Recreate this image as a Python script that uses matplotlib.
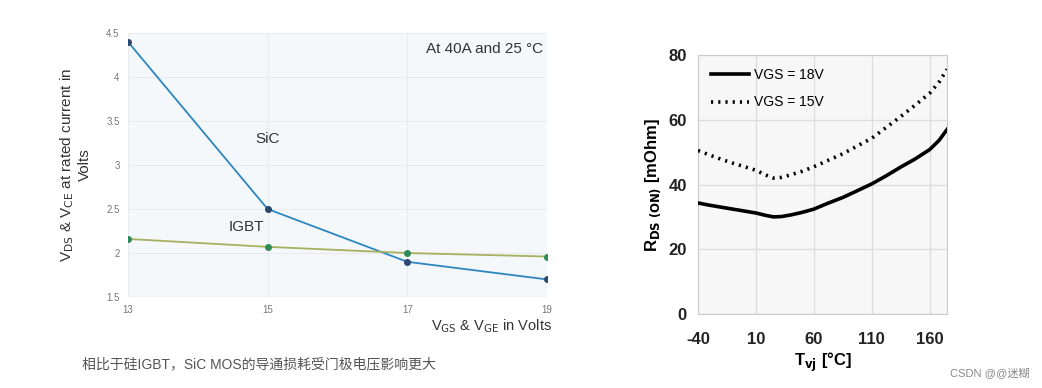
import matplotlib.pyplot as plt

plt.rcParams['font.family'] = ['Liberation Sans', 'Noto Sans CJK SC', 'DejaVu Sans']
plt.rcParams['axes.unicode_minus'] = False

# 左图：门极电压 vs 导通压降
vg = [13, 15, 17, 19]
sic_v = [4.40, 2.50, 1.90, 1.70]
igbt_v = [2.16, 2.07, 2.00, 1.96]

# 右图：结温 vs RDS(on)（从图上读取的点）
tvj = [-40, -30, -20, -10, 0, 10, 18, 25, 32, 40, 50, 60, 72, 85, 97, 110,
       122, 135, 147, 160, 168, 175]
rds_18v = [34.3, 33.6, 33.0, 32.4, 31.8, 31.2, 30.5, 30.0, 30.1, 30.6, 31.4, 32.4,
           34.2, 36.0, 38.0, 40.2, 42.6, 45.4, 47.8, 50.8, 53.6, 57.0]
rds_15v = [50.5, 49.1, 47.8, 46.6, 45.5, 44.4, 43.0, 42.0, 42.2, 43.0, 44.1, 45.5,
           47.4, 49.5, 51.8, 54.3, 57.5, 61.0, 64.4, 68.2, 71.6, 75.6]
right_xticks = [-40, 10, 60, 110, 160]
right_yticks = [0, 20, 40, 60, 80]

caption = "相比于硅IGBT，SiC MOS的导通损耗受门极电压影响更大"

fig = plt.figure(figsize=(10.42, 3.88), dpi=100)
fig.patch.set_facecolor("white")

# ---- 左图 ----
ax1 = fig.add_axes([0.1228, 0.2345, 0.4021, 0.6804])
ax1.set_facecolor("#f4f8fa")
ax1.plot(vg, sic_v, color="#2e86c1", linewidth=1.3, zorder=3)
ax1.plot(vg, sic_v, "o", color="#2c4770", markersize=4, zorder=4)
ax1.plot(vg, igbt_v, color="#a8b060", linewidth=1.3, zorder=3)
ax1.plot(vg, igbt_v, "o", color="#2e8b57", markersize=4, zorder=4)
ax1.set_xlim(13, 19)
ax1.set_ylim(1.5, 4.5)
ax1.set_xticks(vg)
ax1.set_yticks([1.5, 2, 2.5, 3, 3.5, 4, 4.5])
ax1.set_yticklabels(["1.5", "2", "2.5", "3", "3.5", "4", "4.5"])
ax1.tick_params(length=0, labelsize=7, labelcolor="#777777", pad=6)
ax1.grid(color="#e8ecef", linewidth=0.8)
for s in ax1.spines.values():
    s.set_visible(False)
ax1.axhline(1.5, color="#dde2e6", linewidth=1)
ax1.text(18.95, 4.32, "At 40A and 25 °C", ha="right", va="center", fontsize=11, color="#333333")
ax1.text(15.0, 3.3, "SiC", ha="center", va="center", fontsize=11, color="#333333")
ax1.text(14.7, 2.29, "IGBT", ha="center", va="center", fontsize=11, color="#333333")
ax1.set_ylabel("V$_{\\rm DS}$ & V$_{\\rm CE}$ at rated current in\nVolts", fontsize=11,
               color="#333333", labelpad=10)
ax1.text(1.012, -0.11, "V$_{\\rm GS}$ & V$_{\\rm GE}$ in Volts", transform=ax1.transAxes,
         ha="right", va="center", fontsize=10.5, color="#333333")

# ---- 右图 ----
ax2 = fig.add_axes([0.6699, 0.1907, 0.239, 0.6675])
ax2.set_facecolor("#f7f7f7")
ax2.plot(tvj, rds_18v, color="black", linewidth=2.6, label="VGS = 18V", zorder=3)
ax2.plot(tvj, rds_15v, color="black", linewidth=2.6, linestyle=(0, (0.6, 1.4)),
         label="VGS = 15V", zorder=3)
ax2.set_xlim(-40, 175)
ax2.set_ylim(0, 80)
ax2.set_xticks(right_xticks)
ax2.set_yticks(right_yticks)
ax2.tick_params(axis="x", length=0, labelsize=12, pad=13)
ax2.tick_params(axis="y", length=0, labelsize=12, pad=8)
for lab in ax2.get_xticklabels() + ax2.get_yticklabels():
    lab.set_fontweight("bold")
    lab.set_color("#222222")
ax2.grid(color="#dcdcdc", linewidth=0.9)
for s in ax2.spines.values():
    s.set_color("#cccccc")
ax2.set_ylabel("R$_{\\mathbf{DS\\ (ON)}}$ [mOhm]", fontsize=12, fontweight="bold", labelpad=4)
ax2.set_xlabel("T$_{\\mathbf{vj}}$ [°C]", fontsize=12, fontweight="bold", labelpad=3)
ax2.legend(loc="upper left", frameon=False, fontsize=10, handlelength=2.8,
           handletextpad=0.3, labelspacing=1.0, borderaxespad=0.5)

# ---- 说明文字与水印 ----
fig.text(0.079, 0.06, caption, fontsize=10, color="#555555", va="center")
fig.text(0.988, 0.04, "CSDN @@迷糊", fontsize=8, color="#888888", ha="right", va="center")

fig.savefig("out.png", dpi=100)
